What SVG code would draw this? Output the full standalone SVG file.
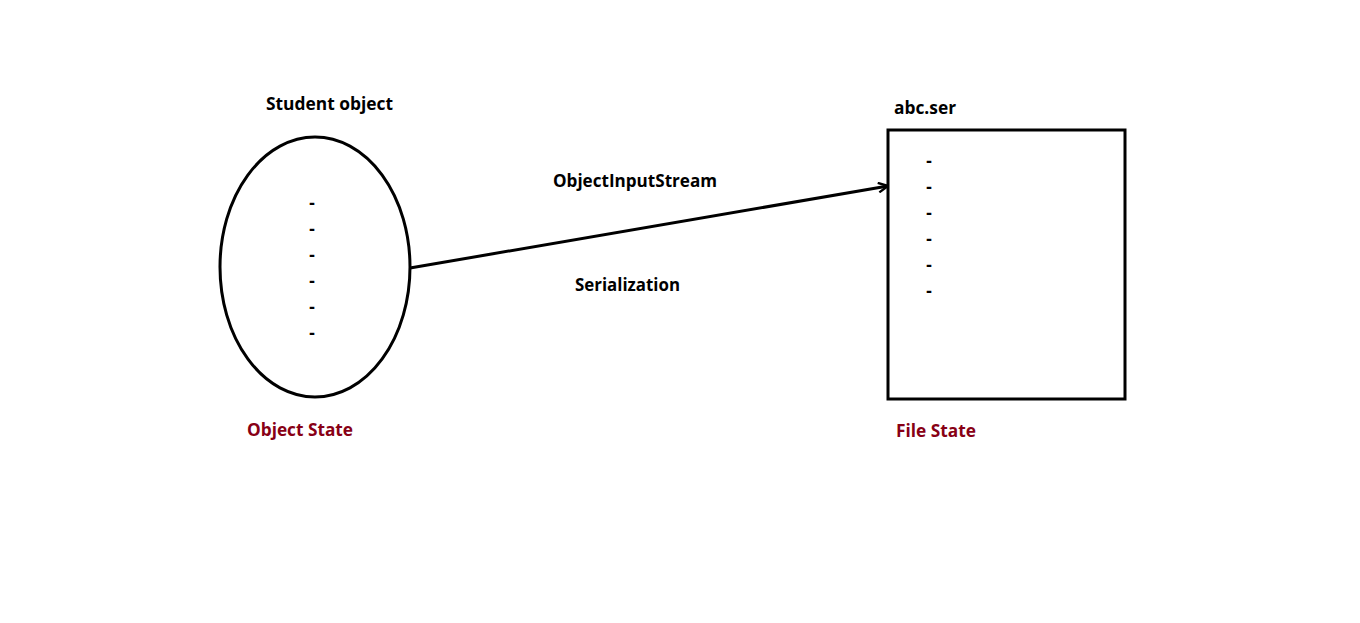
<svg xmlns="http://www.w3.org/2000/svg" width="1360" height="623" viewBox="0 0 1360 623">
<style>
.t{font-family:"Open Sans","Liberation Sans",sans-serif;font-weight:bold;font-size:17px;fill:#000}
.r{fill:#880015}
.d{font-family:"Liberation Sans",sans-serif;font-weight:bold;font-size:18px;fill:#000;text-anchor:middle}
.s{fill:none;stroke:#000;stroke-width:3}
</style>
<defs>
<marker id="ah" viewBox="0 0 10 10" refX="9" refY="5" markerWidth="4" markerHeight="4" orient="auto" markerUnits="strokeWidth">
<path d="M1,1 L9,5 L1,9" fill="none" stroke="#000" stroke-width="2"/>
</marker>
</defs>
<rect width="1360" height="623" fill="#fff"/>
<g id="student">
<text class="t" x="266" y="110" textLength="127" lengthAdjust="spacingAndGlyphs">Student object</text>
<ellipse class="s" cx="315" cy="267" rx="95" ry="130"/>
<text class="d" x="312" y="209">-</text>
<text class="d" x="312" y="235">-</text>
<text class="d" x="312" y="261">-</text>
<text class="d" x="312" y="287">-</text>
<text class="d" x="312" y="313">-</text>
<text class="d" x="312" y="339">-</text>
<text class="t r" x="247" y="436" textLength="106" lengthAdjust="spacingAndGlyphs">Object State</text>
</g>
<g id="file">
<text class="t" x="894" y="114" textLength="62" lengthAdjust="spacingAndGlyphs">abc.ser</text>
<rect class="s" x="888" y="130" width="237" height="269"/>
<text class="d" x="929" y="167">-</text>
<text class="d" x="929" y="193">-</text>
<text class="d" x="929" y="219">-</text>
<text class="d" x="929" y="245">-</text>
<text class="d" x="929" y="271">-</text>
<text class="d" x="929" y="297">-</text>
<text class="t r" x="896" y="437" textLength="80" lengthAdjust="spacingAndGlyphs">File State</text>
</g>
<g id="connectors">
<line x1="410" y1="268" x2="888" y2="186" stroke="#000" stroke-width="3" marker-end="url(#ah)"/>
<text class="t" x="553" y="187" textLength="164" lengthAdjust="spacingAndGlyphs">ObjectInputStream</text>
<text class="t" x="575" y="291" textLength="105" lengthAdjust="spacingAndGlyphs">Serialization</text>
</g>
</svg>
